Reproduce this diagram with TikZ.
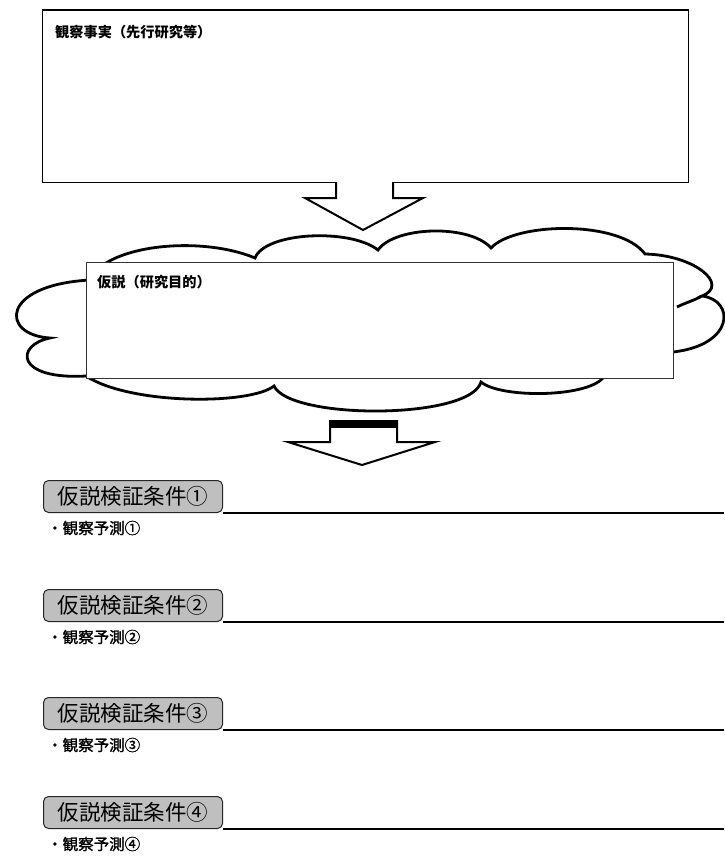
\documentclass[tikz,border=0pt]{standalone}
\usepackage{fontspec}
\newfontfamily\cjk{Noto Sans CJK JP}
\newfontfamily\cjkfb[FakeBold=1.2]{Noto Sans CJK JP}
\tikzset{
  bigbox/.style={draw, line width=1.8pt, fill=white, anchor=north west, inner sep=0pt},
  hypbox/.style={draw=black!80, line width=1pt, fill=white, anchor=north west, inner sep=0pt},
  boxlabel/.style={anchor=west, inner sep=0pt, font=\cjk\bfseries\fontsize{14.2}{16}\selectfont},
  blockarrow/.style={draw, line width=2pt, fill=white, line join=miter},
  cloudline/.style={draw, line width=2.8pt, fill=white},
  tab/.style={draw=black!85, line width=1pt, fill=gray!50, rounded corners=5pt, anchor=south west,
    minimum width=179pt, minimum height=32pt, inner sep=0pt, font=\cjk\fontsize{21.5}{23}\selectfont},
  rule/.style={line width=2.8pt},
  bullet/.style={anchor=west, inner sep=0pt, font=\cjkfb\fontsize{15.5}{17}\selectfont}
}
\begin{document}
\begin{tikzpicture}[x=1pt,y=-1pt]
\useasboundingbox (0,0) rectangle (724,856);
\fill[white] (0,0) rectangle (724,856);

% top box
\node[bigbox, minimum width=646pt, minimum height=172pt] (obs) at (41.5,9.5) {};
\node[boxlabel] (obsl) at (55,32) {観察事実（先行研究等）};

% arrow 1
\draw[blockarrow] (336,182) -- (336,198) -- (305,198) -- (363,230) -- (423,198) -- (393,198) -- (393,182);

% cloud
\path[cloudline]
  (90,280) .. controls (105,245) and (200,235) .. (255,258)
  .. controls (265,232) and (350,228) .. (378,250)
  .. controls (395,226) and (470,224) .. (491,248)
  .. controls (515,222) and (620,220) .. (645,254)
  .. controls (695,255) and (730,285) .. (702,296)
  .. controls (735,300) and (735,345) .. (673,352)
  -- (603,378)
  .. controls (585,398) and (500,398) .. (481,382)
  .. controls (470,420) and (290,420) .. (274,386)
  .. controls (250,405) and (130,405) .. (86,376)
  .. controls (15,380) and (15,345) .. (50,338)
  .. controls (0,335) and (0,285) .. cycle;
% inner hooks
\draw[line width=2.8pt] (702,296) .. controls (695,300) and (685,303) .. (677,307);

% hypothesis box
\node[hypbox, minimum width=587pt, minimum height=116pt] (hyp) at (86,262) {};
\node[boxlabel] (hypl) at (97,282) {仮説（研究目的）};

% arrow 2
\draw[blockarrow] (330,421) -- (330,442) -- (288,442) -- (362,465) -- (435,442) -- (397,442) -- (397,421) -- cycle;
\fill (330,420) rectangle (397,428);

% sections
\foreach \i/\y/\c in {1/513/①, 2/622/②, 3/730/③, 4/829/④}{
  \node[tab] (t\i) at (43,\y) {仮説検証条件\c};
  \coordinate (e\i) at (724,\y);
  \draw[rule] (t\i.south east) -- (e\i);
  \node[bullet] (b\i) at (47,\y+15) {・観察予測\c};
}
\end{tikzpicture}
\end{document}
